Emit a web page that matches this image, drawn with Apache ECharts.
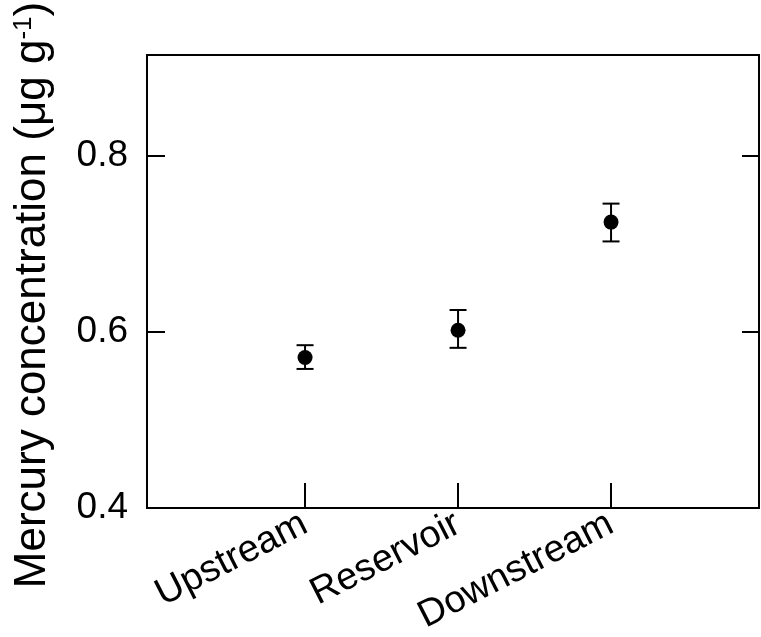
<!DOCTYPE html>
<html>
<head>
<meta charset="utf-8">
<script src="https://cdn.jsdelivr.net/npm/echarts@6/dist/echarts.min.js"></script>
<style>html,body{margin:0;padding:0;background:#fff}#c{width:761px;height:637px}</style>
</head>
<body>
<div id="c"></div>
<script>
var categories = ['Upstream', 'Reservoir', 'Downstream'];
var catPositions = [1, 2, 3];
var means = [0.571, 0.602, 0.725];
var upper = [0.585, 0.625, 0.746];
var lower = [0.558, 0.582, 0.703];
var yTicks = [0.4, 0.6, 0.8];

var FONT = "'Liberation Sans', Arial, Helvetica, sans-serif";
var chart = echarts.init(document.getElementById('c'), null, {renderer: 'canvas'});

var pointData = catPositions.map(function (x, i) { return [x, means[i]]; });
var errData = catPositions.map(function (x, i) { return [x, lower[i], upper[i]]; });

var option = {
  backgroundColor: '#fff',
  animation: false,
  grid: {left: 147, right: 2, top: 55, bottom: 126, show: true, borderColor: '#000', borderWidth: 2, backgroundColor: 'transparent'},
  xAxis: [{
    type: 'value', min: -0.033, max: 3.967,
    splitLine: {show: false},
    axisLine: {show: true, onZero: false, lineStyle: {color: '#000', width: 2}},
    axisTick: {show: true, inside: true, length: 25, lineStyle: {color: '#000', width: 2}, customValues: catPositions},
    axisLabel: {
      show: true, customValues: catPositions, rotate: 27, margin: 14,
      color: '#000', fontSize: 38, fontFamily: FONT,
      formatter: function (v) {
        var i = catPositions.indexOf(Math.round(v));
        return i >= 0 ? categories[i] : '';
      }
    }
  }],
  yAxis: [{
    type: 'value', min: 0.4, max: 0.915, position: 'left',
    splitLine: {show: false},
    axisLine: {show: true, onZero: false, lineStyle: {color: '#000', width: 2}},
    axisTick: {show: true, inside: true, length: 18, lineStyle: {color: '#000', width: 2}, customValues: yTicks},
    axisLabel: {show: true, customValues: yTicks, margin: 19, color: '#000', fontSize: 37, fontFamily: FONT,
      formatter: function (v) { return v.toFixed(1); }}
  }, {
    type: 'value', min: 0.4, max: 0.915, position: 'right',
    splitLine: {show: false},
    axisLine: {show: true, onZero: false, lineStyle: {color: '#000', width: 2}},
    axisTick: {show: true, inside: true, length: 17, lineStyle: {color: '#000', width: 2}, customValues: yTicks},
    axisLabel: {show: false}
  }],
  graphic: [{
    type: 'text',
    x: 33, y: 295,
    rotation: Math.PI / 2,
    style: {
      text: 'Mercury concentration (μg g{sup|-1})',
      fill: '#000',
      font: '44px ' + FONT,
      fontSize: 44,
      fontFamily: FONT,
      align: 'center',
      verticalAlign: 'middle',
      rich: {
        sup: {fontSize: 26, fontFamily: FONT, fill: '#000', verticalAlign: 'top', padding: [0, 0, 18, 0]}
      }
    }
  }],
  series: [{
    type: 'custom',
    data: errData,
    z: 3,
    renderItem: function (params, api) {
      var x = api.value(0);
      var lo = api.coord([x, api.value(1)]);
      var hi = api.coord([x, api.value(2)]);
      var cap = 8.5;
      var st = {stroke: '#000', lineWidth: 2};
      return {
        type: 'group',
        children: [
          {type: 'line', shape: {x1: lo[0], y1: lo[1], x2: hi[0], y2: hi[1]}, style: st},
          {type: 'line', shape: {x1: lo[0] - cap, y1: lo[1], x2: lo[0] + cap, y2: lo[1]}, style: st},
          {type: 'line', shape: {x1: hi[0] - cap, y1: hi[1], x2: hi[0] + cap, y2: hi[1]}, style: st}
        ]
      };
    }
  }, {
    type: 'scatter',
    data: pointData,
    symbol: 'circle',
    symbolSize: 15,
    z: 4,
    itemStyle: {color: '#000', opacity: 1}
  }]
};
chart.setOption(option);
</script>
</body>
</html>
